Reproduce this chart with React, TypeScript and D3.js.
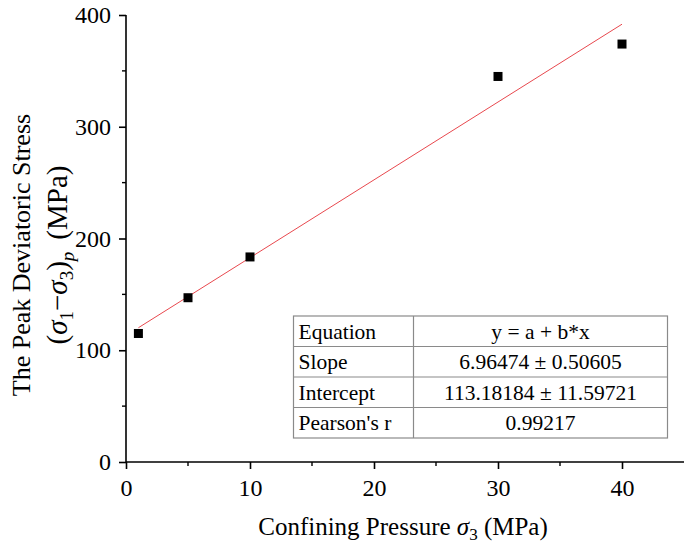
import React, { useEffect, useRef } from "react";
import * as d3 from "d3";

// Confining pressure (MPa) and measured peak deviatoric stress (MPa)
const confining = [1, 5, 10, 30, 40];
const peakStress = [115, 147, 183.5, 345, 374];

// Linear fit from the table
const fitA = 113.18184;
const fitB = 6.96474;
const fitRange = [1, 40];

const xTicks = [0, 10, 20, 30, 40];
const yTicks = [0, 100, 200, 300, 400];

const tableLabels = ["Equation", "Slope", "Intercept", "Pearson's r"];
const tableValues = ["y = a + b*x", "6.96474 \u00b1 0.50605", "113.18184 \u00b1 11.59721", "0.99217"];

const W = 685;
const H = 549;
const FONT = "'Liberation Serif', 'Times New Roman', serif";

const App: React.FC = () => {
  const svgRef = useRef<SVGSVGElement | null>(null);

  useEffect(() => {
    document.body.style.margin = "0";
    if (!svgRef.current) return;
    const svg = d3.select(svgRef.current);
    svg.selectAll("*").remove();

    const x = d3.scaleLinear().domain([0, 45]).range([126, 684]);
    const y = d3.scaleLinear().domain([0, 400]).range([462, 15]);

    // axes
    const xAxis = d3
      .axisBottom(x)
      .tickValues(xTicks)
      .tickSize(7)
      .tickPadding(10)
      .tickFormat((d) => String(d));
    const gx = svg.append("g").attr("transform", `translate(0,${y(0)})`).call(xAxis);
    gx.select(".domain").attr("stroke-width", 1.6).attr("d", `M${x(0)},0H${x(45)}`);

    const yAxis = d3
      .axisLeft(y)
      .tickValues(yTicks)
      .tickSize(7)
      .tickPadding(8)
      .tickFormat((d) => String(d));
    const gy = svg.append("g").attr("transform", `translate(${x(0)},0)`).call(yAxis);
    gy.select(".domain").attr("stroke-width", 1.6).attr("d", `M0,${y(0)}V${y(400)}`);

    [gx, gy].forEach((g) => {
      g.selectAll("line").attr("stroke-width", 1.6);
      g.selectAll("text").attr("font-family", FONT).attr("font-size", 24).attr("fill", "#000");
    });

    // minor ticks
    const minorX = d3.range(5, 45, 10);
    svg
      .append("g")
      .selectAll("line")
      .data(minorX)
      .enter()
      .append("line")
      .attr("x1", (d) => x(d))
      .attr("x2", (d) => x(d))
      .attr("y1", y(0))
      .attr("y2", y(0) + 4)
      .attr("stroke", "#000")
      .attr("stroke-width", 1.4);
    const minorY = d3.range(50, 400, 100);
    svg
      .append("g")
      .selectAll("line")
      .data(minorY)
      .enter()
      .append("line")
      .attr("x1", x(0))
      .attr("x2", x(0) - 4)
      .attr("y1", (d) => y(d))
      .attr("y2", (d) => y(d))
      .attr("stroke", "#000")
      .attr("stroke-width", 1.4);

    // fitted line
    svg
      .append("line")
      .attr("x1", x(fitRange[0]))
      .attr("x2", x(fitRange[1]))
      .attr("y1", y(fitA + fitB * fitRange[0]))
      .attr("y2", y(fitA + fitB * fitRange[1]))
      .attr("stroke", "#e8484e")
      .attr("stroke-width", 1);

    // points
    const sq = 9;
    svg
      .append("g")
      .selectAll("rect")
      .data(confining)
      .enter()
      .append("rect")
      .attr("x", (d) => x(d) - sq / 2)
      .attr("y", (d, i) => y(peakStress[i]) - sq / 2)
      .attr("width", sq)
      .attr("height", sq)
      .attr("fill", "#000");

    // x label
    const xl = svg
      .append("text")
      .attr("x", 403)
      .attr("y", 535)
      .attr("text-anchor", "middle")
      .attr("font-family", FONT)
      .attr("font-size", 25);
    xl.append("tspan").text("Confining Pressure ");
    xl.append("tspan").attr("font-style", "italic").text("\u03c3");
    xl.append("tspan").attr("font-size", 17).attr("dy", 5).text("3");
    xl.append("tspan").attr("dy", -5).text(" (MPa)");

    // y label
    svg
      .append("text")
      .attr("transform", "translate(30,255) rotate(-90)")
      .attr("text-anchor", "middle")
      .attr("font-family", FONT)
      .attr("font-size", 26)
      .text("The Peak Deviatoric Stress");
    const yl = svg
      .append("text")
      .attr("transform", "translate(67,255) rotate(-90)")
      .attr("text-anchor", "middle")
      .attr("font-family", FONT)
      .attr("font-size", 29);
    yl.append("tspan").text("(");
    yl.append("tspan").attr("font-style", "italic").text("\u03c3");
    yl.append("tspan").attr("font-size", 19).attr("dy", 6).text("1");
    yl.append("tspan").attr("dy", -6).text("\u2212");
    yl.append("tspan").attr("font-style", "italic").text("\u03c3");
    yl.append("tspan").attr("font-size", 19).attr("dy", 6).text("3");
    yl.append("tspan").attr("dy", -6).text(")");
    yl.append("tspan").attr("font-size", 19).attr("font-style", "italic").attr("dy", 7).text("p");
    yl.append("tspan").attr("dy", -7).attr("dx", 12).text("(MPa)");

    // stats table
    const tx0 = 293.5;
    const tx1 = 413.5;
    const tx2 = 667.5;
    const rowY = [316, 346.5, 377, 407.5, 438];
    const tbl = svg.append("g");
    tbl
      .append("rect")
      .attr("x", tx0)
      .attr("y", rowY[0])
      .attr("width", tx2 - tx0)
      .attr("height", rowY[4] - rowY[0])
      .attr("fill", "#fff")
      .attr("stroke", "#8a8a8a")
      .attr("stroke-width", 1.2);
    tbl
      .selectAll("line.row")
      .data(rowY.slice(1, 4))
      .enter()
      .append("line")
      .attr("x1", tx0)
      .attr("x2", tx2)
      .attr("y1", (d) => d)
      .attr("y2", (d) => d)
      .attr("stroke", "#8a8a8a")
      .attr("stroke-width", 1.2);
    tbl
      .append("line")
      .attr("x1", tx1)
      .attr("x2", tx1)
      .attr("y1", rowY[0])
      .attr("y2", rowY[4])
      .attr("stroke", "#8a8a8a")
      .attr("stroke-width", 1.2);
    tbl
      .selectAll("text.lab")
      .data(tableLabels)
      .enter()
      .append("text")
      .attr("x", tx0 + 5)
      .attr("y", (d, i) => (rowY[i] + rowY[i + 1]) / 2 + 7.5)
      .attr("font-family", FONT)
      .attr("font-size", 21.5)
      .text((d) => d);
    tbl
      .selectAll("text.val")
      .data(tableValues)
      .enter()
      .append("text")
      .attr("x", (tx1 + tx2) / 2)
      .attr("y", (d, i) => (rowY[i] + rowY[i + 1]) / 2 + 7.5)
      .attr("text-anchor", "middle")
      .attr("font-family", FONT)
      .attr("font-size", 21.5)
      .text((d) => d);
  }, []);

  return <svg ref={svgRef} width={W} height={H} style={{ display: "block", background: "#fff" }}></svg>;
};

export default App;
